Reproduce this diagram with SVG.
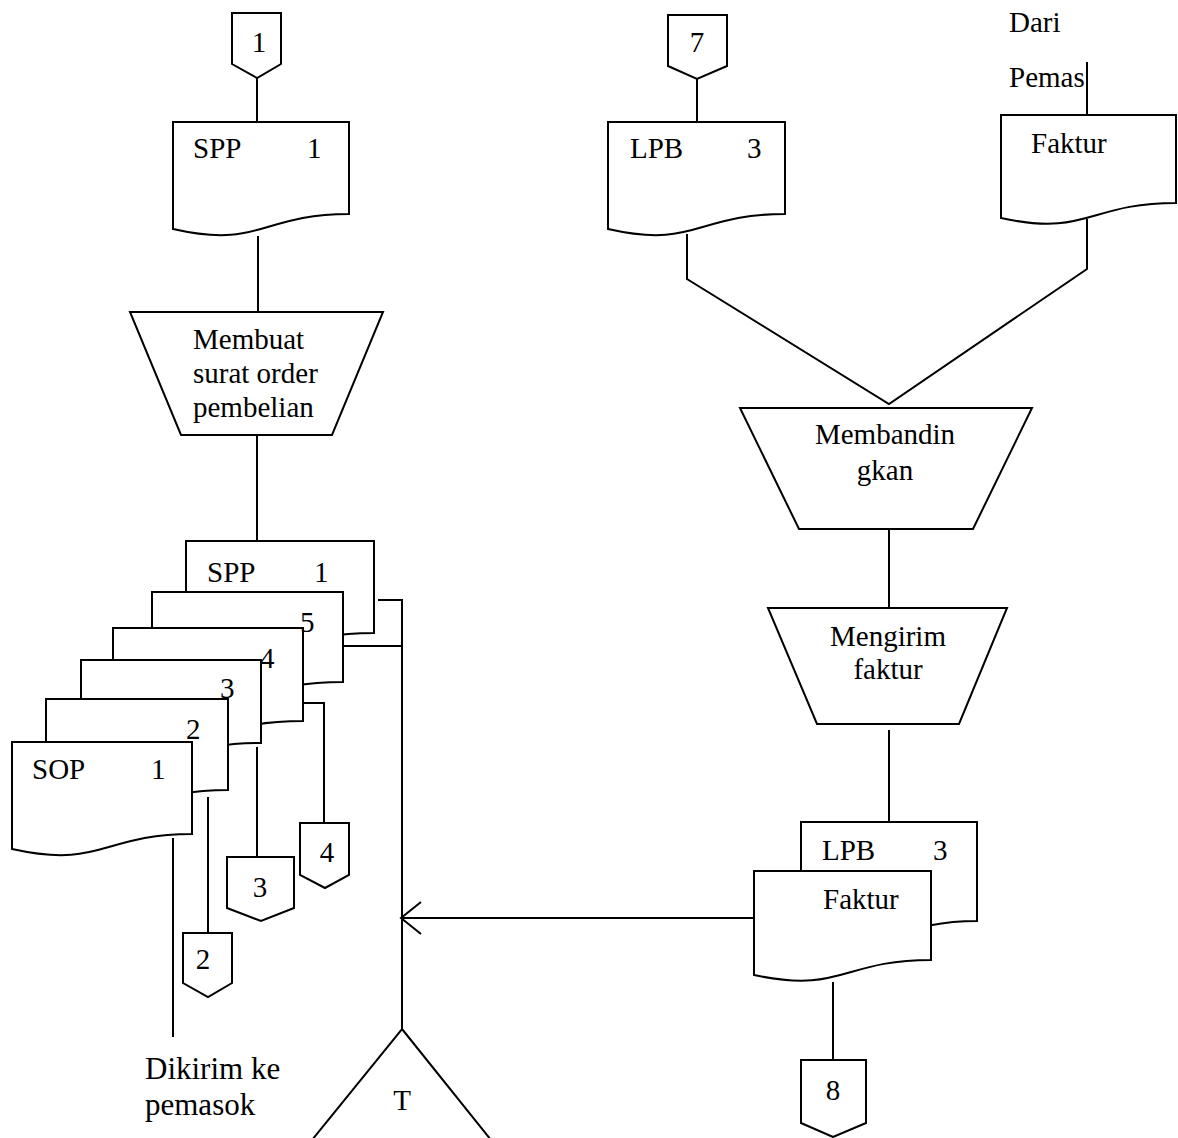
<svg xmlns="http://www.w3.org/2000/svg" width="1178" height="1138" viewBox="0 0 1178 1138">
  <style>
    .shape { fill: #ffffff; stroke: #000000; stroke-width: 2; stroke-linejoin: miter; }
    .wire { fill: none; stroke: #000000; stroke-width: 2; }
    .lbl { font-family: 'Liberation Serif', 'DejaVu Serif', serif; font-size: 29px; fill: #000000; }
    .mid { text-anchor: middle; }
    .big { font-size: 31px; }
  </style>
  <defs>
    <marker id="openArrow" viewBox="-22 -18 24 36" refX="0" refY="0" markerWidth="24" markerHeight="36" markerUnits="userSpaceOnUse" orient="auto">
      <path d="M-20,-16 L0,0 L-20,16" fill="none" stroke="#000000" stroke-width="2"/>
    </marker>
  </defs>

  <rect x="0" y="0" width="1178" height="1138" fill="#ffffff"/>

  <!-- connectors -->
  <g id="connectors">
    <line class="wire" x1="257" y1="78" x2="257" y2="122"/>
    <line class="wire" x1="258" y1="236" x2="258" y2="312"/>
    <line class="wire" x1="257" y1="435" x2="257" y2="541"/>
    <!-- copies of the order form leaving the stack -->
    <polyline class="wire" points="378,600 402,600 402,1029"/>
    <line class="wire" x1="343" y1="646" x2="402" y2="646"/>
    <polyline class="wire" points="303,703 324,703 324,823"/>
    <line class="wire" x1="257" y1="747" x2="257" y2="857"/>
    <line class="wire" x1="208" y1="797" x2="208" y2="933"/>
    <line class="wire" x1="173" y1="838" x2="173" y2="1037"/>
    <!-- right branch -->
    <line class="wire" x1="697" y1="79" x2="697" y2="122"/>
    <polyline class="wire" points="687,234 687,279 889,404 1087,269 1087,219"/>
    <line class="wire" x1="1087" y1="62" x2="1087" y2="115"/>
    <line class="wire" x1="889" y1="529" x2="889" y2="608"/>
    <line class="wire" x1="889" y1="730" x2="889" y2="822"/>
    <line class="wire" x1="833" y1="982" x2="833" y2="1060"/>
    <line class="wire" x1="754" y1="918" x2="401" y2="918" marker-end="url(#openArrow)"/>
  </g>

  <g class="lbl">
    <!-- off-page connector 1 -->
    <g id="conn-1">
      <path class="shape" d="M232,13 H281 V64 L257,78 L232,64 Z"/>
      <text class="mid" x="259" y="52">1</text>
    </g>

    <!-- SPP document -->
    <g id="doc-spp">
      <path class="shape" d="M173,122 H349 V214 C261,214 261,249 173,229 Z"/>
      <text x="193" y="158">SPP</text>
      <text x="307" y="158">1</text>
    </g>

    <!-- process: create purchase order -->
    <g id="proc-membuat">
      <path class="shape" d="M130,312 H383 L332,435 H181 Z"/>
      <text x="193" y="349">Membuat</text>
      <text x="193" y="383">surat order</text>
      <text x="193" y="417">pembelian</text>
    </g>

    <!-- stacked copies: SPP 1, SOP 5..1 -->
    <g id="doc-stack-spp">
      <path class="shape" d="M186,541 H374 V633 C280,633 280,668 186,648 Z"/>
      <text x="207" y="582">SPP</text>
      <text x="314" y="582">1</text>
    </g>
    <g id="doc-stack-5">
      <path class="shape" d="M152,592 H343 V682 C248,682 248,716 152,697 Z"/>
    </g>
    <g id="doc-stack-4">
      <path class="shape" d="M113,628 H303 V721 C208,721 208,756 113,736 Z"/>
    </g>
    <g id="doc-stack-3">
      <path class="shape" d="M81,660 H261 V743 C171,743 171,775 81,757 Z"/>
    </g>
    <g id="doc-stack-2">
      <path class="shape" d="M46,699 H228 V790 C137,790 137,825 46,805 Z"/>
    </g>
    <g id="doc-stack-sop">
      <path class="shape" d="M12,742 H192 V834 C102,834 102,869 12,849 Z"/>
      <text x="32" y="779">SOP</text>
      <text x="151" y="779">1</text>
    </g>
    <g id="copy-numbers">
      <text x="300" y="632">5</text>
      <text x="260" y="668">4</text>
      <text x="220" y="698">3</text>
      <text x="186" y="739">2</text>
    </g>

    <!-- off-page connectors 4, 3, 2 -->
    <g id="conn-4">
      <path class="shape" d="M300,823 H349 V875 L325,888 L300,875 Z"/>
      <text class="mid" x="327" y="862">4</text>
    </g>
    <g id="conn-3">
      <path class="shape" d="M227,857 H294 V908 L261,921 L227,908 Z"/>
      <text class="mid" x="260" y="897">3</text>
    </g>
    <g id="conn-2">
      <path class="shape" d="M183,933 H232 V983 L208,997 L183,983 Z"/>
      <text class="mid" x="203" y="969">2</text>
    </g>

    <g id="label-dikirim">
      <text class="big" x="145" y="1079">Dikirim ke</text>
      <text class="big" x="145" y="1115">pemasok</text>
    </g>

    <!-- file: T -->
    <g id="file-t">
      <path class="shape" d="M402,1029 L491,1140 H312 Z"/>
      <text class="mid" x="402" y="1110">T</text>
    </g>

    <!-- off-page connector 7 -->
    <g id="conn-7">
      <path class="shape" d="M668,15 H727 V66 L697,79 L668,66 Z"/>
      <text class="mid" x="697" y="52">7</text>
    </g>

    <!-- LPB document -->
    <g id="doc-lpb">
      <path class="shape" d="M608,122 H785 V214 C696,214 696,249 608,229 Z"/>
      <text x="630" y="158">LPB</text>
      <text x="747" y="158">3</text>
    </g>

    <g id="label-dari">
      <text x="1009" y="32">Dari</text>
      <text x="1009" y="87">Pemas</text>
    </g>

    <!-- invoice from supplier -->
    <g id="doc-faktur-in">
      <path class="shape" d="M1001,115 H1176 V203 C1088,203 1088,237 1001,218 Z"/>
      <text x="1031" y="153">Faktur</text>
    </g>

    <!-- process: compare -->
    <g id="proc-membandingkan">
      <path class="shape" d="M740,408 H1032 L973,529 H799 Z"/>
      <text class="mid" x="885" y="444">Membandin</text>
      <text class="mid" x="885" y="480">gkan</text>
    </g>

    <!-- process: send invoice -->
    <g id="proc-mengirim">
      <path class="shape" d="M768,608 H1007 L959,724 H817 Z"/>
      <text class="mid" x="888" y="646">Mengirim</text>
      <text class="mid" x="888" y="679">faktur</text>
    </g>

    <!-- LPB 3 with invoice -->
    <g id="doc-lpb-out">
      <path class="shape" d="M801,822 H977 V921 C889,921 889,959 801,937 Z"/>
      <text x="822" y="860">LPB</text>
      <text x="933" y="860">3</text>
    </g>
    <g id="doc-faktur-out">
      <path class="shape" d="M754,871 H931 V960 C842,960 842,994 754,975 Z"/>
      <text x="823" y="909">Faktur</text>
    </g>

    <!-- off-page connector 8 -->
    <g id="conn-8">
      <path class="shape" d="M801,1060 H866 V1123 L833,1137 L801,1123 Z"/>
      <text class="mid" x="833" y="1100">8</text>
    </g>
  </g>
</svg>
